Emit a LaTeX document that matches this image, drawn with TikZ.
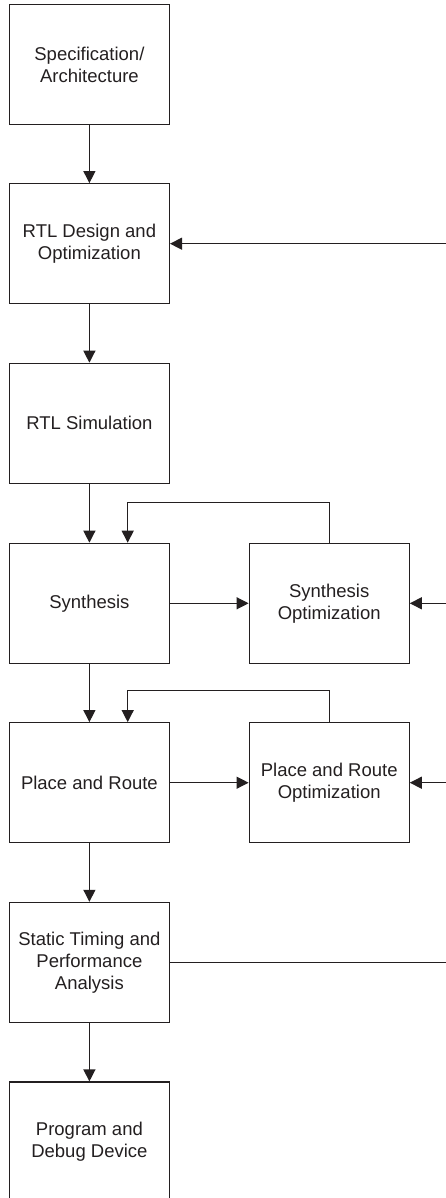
\documentclass[tikz,border=0pt]{standalone}
\usepackage{fontspec}
\setmainfont{Liberation Sans}
\usetikzlibrary{arrows.meta}
\definecolor{ink}{HTML}{231F20}
\tikzset{
  box/.style={draw=ink, line width=1.2pt, minimum width=160pt, minimum height=120pt,
    inner sep=0pt, align=center, text=ink, font=\fontsize{18.5pt}{22pt}\selectfont},
  conn/.style={draw=ink, line width=1.2pt},
  arr/.style={conn, -{Triangle[length=12pt,width=12pt]}}
}
\begin{document}
\begin{tikzpicture}[x=1pt,y=1pt]
\useasboundingbox (0,0) rectangle (446,-1198);
\clip (0,0) rectangle (446,-1198);
\node[box] (spec) at (89.4,-64.5) {Specification/\\Architecture};
\node[box] (rtl) at (89.4,-243.7) {RTL Design and\\Optimization};
\node[box] (sim) at (89.4,-423.3) {RTL Simulation};
\node[box] (syn) at (89.4,-603.3) {Synthesis};
\node[box] (synopt) at (329.2,-603.3) {Synthesis\\Optimization};
\node[box] (pr) at (89.4,-782.7) {Place and Route};
\node[box] (propt) at (329.2,-782.7) {Place and Route\\Optimization};
\node[box] (sta) at (89.4,-962.4) {Static Timing and\\Performance\\Analysis};
\node[box] (prog) at (89.4,-1142) {Program and\\Debug Device};

\coordinate (eR) at (446,-243.7);
\coordinate (eS) at (446,-603.3);
\coordinate (eP) at (446,-782.7);
\coordinate (eT) at (446,-962.4);

\draw[arr] (spec) -- (rtl);
\draw[arr] (rtl) -- (sim);
\draw[arr] (sim) -- (syn);
\draw[arr] (syn) -- (pr);
\draw[arr] (pr) -- (sta);
\draw[arr] (sta) -- (prog);
\draw[arr] (syn) -- (synopt);
\draw[arr] (pr) -- (propt);
\draw[arr] (eR) -- (rtl);
\draw[arr] (eS) -- (synopt);
\draw[arr] (eP) -- (propt);
\draw[conn] (sta) -- (eT);
\draw[arr] (synopt.north) -- ++(0,40) -| ([xshift=38.3pt]syn.north);
\draw[arr] (propt.north) -- ++(0,31.7) -| ([xshift=38.3pt]pr.north);
\end{tikzpicture}
\end{document}
